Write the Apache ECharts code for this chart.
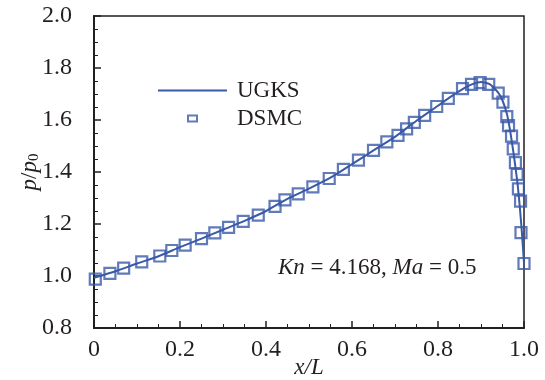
<!DOCTYPE html>
<html>
<head>
<meta charset="utf-8">
<script src="https://cdn.jsdelivr.net/npm/echarts@6/dist/echarts.min.js"></script>
<style>
  html, body { margin: 0; padding: 0; background: #fff; }
  #chart { width: 545px; height: 380px; }
</style>
</head>
<body>
<div id="chart"></div>
<script>
// UGKS solution (line)
const ugksX = [0, 0.05, 0.1, 0.15, 0.2, 0.25, 0.3, 0.35, 0.4, 0.45, 0.5, 0.55, 0.6, 0.65, 0.7, 0.75, 0.8,
  0.83, 0.86, 0.88, 0.9, 0.92, 0.94, 0.95, 0.96, 0.965, 0.97, 0.975, 0.98, 0.985, 0.99, 0.995, 1.0];
const ugksP = [0.993, 1.018, 1.048, 1.076, 1.111, 1.144, 1.178, 1.212, 1.250, 1.297, 1.336, 1.378, 1.430,
  1.483, 1.535, 1.597, 1.655, 1.690, 1.722, 1.738, 1.746, 1.738, 1.705, 1.675, 1.625, 1.585, 1.535, 1.48,
  1.42, 1.355, 1.27, 1.17, 1.05];

// DSMC samples (markers)
const dsmcX = [0.003, 0.037, 0.069, 0.111, 0.153, 0.181, 0.212, 0.250, 0.281, 0.313, 0.347, 0.382, 0.421,
  0.444, 0.475, 0.509, 0.547, 0.580, 0.615, 0.650, 0.681, 0.707, 0.727, 0.745, 0.769, 0.797, 0.824, 0.857,
  0.878, 0.898, 0.918, 0.940, 0.951, 0.960, 0.964, 0.971, 0.975, 0.980, 0.984, 0.987, 0.992, 0.993, 1.0];
const dsmcP = [0.988, 1.010, 1.030, 1.054, 1.077, 1.098, 1.119, 1.144, 1.166, 1.187, 1.210, 1.234, 1.268,
  1.293, 1.316, 1.343, 1.375, 1.410, 1.446, 1.483, 1.516, 1.541, 1.566, 1.591, 1.618, 1.652, 1.683, 1.721,
  1.737, 1.744, 1.737, 1.703, 1.669, 1.613, 1.578, 1.538, 1.489, 1.436, 1.391, 1.335, 1.288, 1.167, 1.048];

const xTicks = [0, 0.2, 0.4, 0.6, 0.8, 1.0];
const yTicks = [0.8, 1.0, 1.2, 1.4, 1.6, 1.8, 2.0];

const blue = "#3a59a7";
const ink = "#231f20";
const serif = "Liberation Serif";

const chart = echarts.init(document.getElementById("chart"), null, { renderer: "canvas" });
chart.setOption({
  backgroundColor: "#fff",
  animation: false,
  textStyle: { fontFamily: serif, color: ink },
  grid: {
    left: 94, right: 21, top: 16, bottom: 52,
    outerBoundsMode: "none",
    show: true, borderColor: ink, borderWidth: 1.5, backgroundColor: "transparent"
  },
  legend: {
    orient: "vertical",
    left: 158, top: 79, padding: 0,
    itemWidth: 69, itemHeight: 8, itemGap: 5,
    textStyle: { fontFamily: serif, fontSize: 23, color: ink, lineHeight: 21, padding: [0, 0, 0, 5] },
    data: [
      { name: "UGKS", icon: "path://M0,0H69V2H0Z", itemStyle: { color: blue, borderWidth: 0 } },
      { name: "DSMC", icon: "path://M0,0H11V8H0Z M2,2V6H9V2Z", itemStyle: { color: blue, borderWidth: 0 } }
    ]
  },
  xAxis: {
    type: "value",
    min: xTicks[0], max: xTicks[xTicks.length - 1], interval: 0.2,
    name: "x/L",
    nameLocation: "middle", nameGap: 28, nameMoveOverlap: false,
    nameTextStyle: { fontFamily: serif, fontSize: 23, fontStyle: "italic", color: ink },
    axisLine: { lineStyle: { color: ink, width: 2 } },
    axisTick: { inside: true, length: 7, lineStyle: { color: ink, width: 1.5 } },
    minorTick: { show: true, splitNumber: 4, length: 4, lineStyle: { color: ink, width: 1 } },
    splitLine: { show: false },
    axisLabel: {
      fontFamily: serif, fontSize: 24, color: ink, margin: 10,
      formatter: (v) => (v === 0 ? "0" : v.toFixed(1))
    }
  },
  yAxis: {
    type: "value",
    min: yTicks[0], max: yTicks[yTicks.length - 1], interval: 0.2,
    name: "{i|p}/{i|p}{sub|0}",
    nameLocation: "middle", nameGap: 52, nameRotate: 90, nameMoveOverlap: false,
    nameTextStyle: {
      fontFamily: serif, fontSize: 23, color: ink,
      rich: {
        i: { fontFamily: serif, fontSize: 23, fontStyle: "italic", color: ink },
        sub: { fontFamily: serif, fontSize: 15, color: ink, padding: [9, 0, 0, 0] }
      }
    },
    axisLine: { lineStyle: { color: ink, width: 2 } },
    axisTick: { inside: true, length: 7, lineStyle: { color: ink, width: 1.5 } },
    minorTick: { show: true, splitNumber: 4, length: 4, lineStyle: { color: ink, width: 1 } },
    splitLine: { show: false },
    axisLabel: {
      fontFamily: serif, fontSize: 24, color: ink, margin: 22,
      formatter: (v) => v.toFixed(1)
    }
  },
  graphic: [{
    type: "text",
    left: 278, top: 256,
    style: {
      text: "{i|Kn} = 4.168, {i|Ma} = 0.5",
      fontFamily: serif, fontSize: 23, fill: ink,
      rich: {
        i: { fontFamily: serif, fontSize: 23, fontStyle: "italic", fill: ink }
      }
    }
  }],
  series: [
    {
      name: "UGKS",
      type: "line",
      data: ugksX.map((x, i) => [x, ugksP[i]]),
      showSymbol: false,
      smooth: 0.2,
      lineStyle: { color: blue, width: 2 },
      itemStyle: { color: blue },
      z: 2
    },
    {
      name: "DSMC",
      type: "scatter",
      data: dsmcX.map((x, i) => [x, dsmcP[i]]),
      symbol: "rect",
      symbolSize: 11,
      itemStyle: { color: "rgba(255,255,255,0)", borderColor: blue, borderWidth: 2.2 },
      z: 3
    }
  ]
});
</script>
</body>
</html>
